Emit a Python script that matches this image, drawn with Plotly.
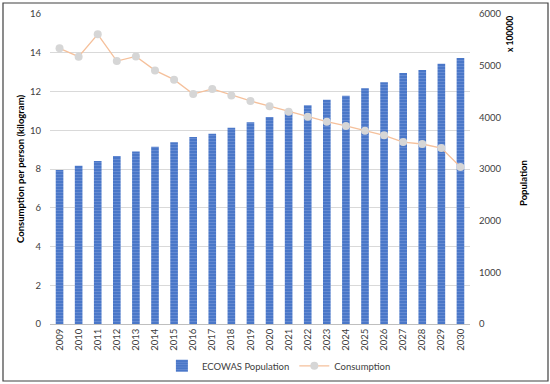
import plotly.graph_objects as go

years = [str(y) for y in range(2009, 2031)]
population = [2981, 3064, 3154, 3251, 3341, 3431, 3517, 3619, 3682, 3799, 3904, 4005,
              4120, 4232, 4342, 4419, 4561, 4677, 4858, 4916, 5038, 5148]
consumption = [14.23, 13.80, 14.95, 13.57, 13.81, 13.09, 12.61, 11.87, 12.13, 11.80, 11.51, 11.24,
               10.96, 10.70, 10.44, 10.22, 9.98, 9.74, 9.39, 9.29, 9.08, 8.10]

FONT = "Lato"
TICK = dict(size=9.5, color="#404040")
fig = go.Figure()
fig.add_trace(go.Bar(
    x=years, y=population, name="ECOWAS Population", yaxis="y",
    marker=dict(color="#4472C4", line=dict(width=0),
                pattern=dict(shape="-", bgcolor="#4A77C8", fgcolor="#7D9DDB", size=3, solidity=0.35)),
))
fig.add_trace(go.Scatter(
    x=years, y=consumption, name="Consumption", yaxis="y2", mode="lines+markers",
    line=dict(color="#F5C09B", width=1.3),
    marker=dict(color="#D6D6D6", size=8),
))

fig.update_layout(
    width=550, height=384,
    margin=dict(l=50, r=80, t=14, b=60, autoexpand=False),
    paper_bgcolor="white", plot_bgcolor="white",
    font=dict(family=FONT, size=9.5, color="#404040"),
    bargap=0.6,
    showlegend=True,
    legend=dict(orientation="h", x=0.545, xanchor="center", y=-0.135, yanchor="middle",
                itemwidth=30, font=dict(size=9.5, color="#404040")),
    xaxis=dict(type="category", range=[-0.5, len(years) - 0.5], tickangle=-90,
               showline=True, linecolor="#BFBFBF",
               linewidth=1, showgrid=False, ticks="", tickfont=TICK,
               automargin=False),
    yaxis=dict(side="right", range=[0, 6000], dtick=1000, showgrid=False, zeroline=False,
               ticks="", tickfont=TICK, ticklabelstandoff=8, automargin=False),
    yaxis2=dict(overlaying="y", side="left", range=[0, 16], dtick=2, showgrid=True,
                gridcolor="#D9D9D9", gridwidth=1, zeroline=False, ticks="",
                tickfont=TICK, ticklabelstandoff=8, automargin=False),
    annotations=[
        dict(text="<b>Consumption per person (kilogram)</b>", xref="paper", yref="paper",
             x=0, xshift=-30, y=0.5, xanchor="center", yanchor="middle",
             textangle=-90, showarrow=False,
             font=dict(size=9.5, color="#000000")),
        dict(text="<b>Population</b>", xref="paper", yref="paper",
             x=1, xshift=53, y=(324 - 183) / 310, xanchor="center", yanchor="middle",
             textangle=-90, showarrow=False,
             font=dict(size=9.5, color="#000000")),
        dict(text="<b>x 100000</b>", xref="paper", yref="paper",
             x=1, xshift=40, y=(324 - 34) / 310, xanchor="center", yanchor="middle",
             textangle=-90, showarrow=False,
             font=dict(size=8.5, color="#000000")),
    ],
    shapes=[dict(type="rect", xref="paper", yref="paper",
                 x0=(3 - 50) / 420, x1=(548 - 50) / 420,
                 y0=(324 - 381) / 310, y1=(324 - 3) / 310,
                 line=dict(color="#404040", width=1.2), fillcolor="rgba(0,0,0,0)")],
)

fig.write_html("out.html", config={"displayModeBar": False},
               post_script="document.body.style.margin='0';document.body.style.overflow='hidden';")
